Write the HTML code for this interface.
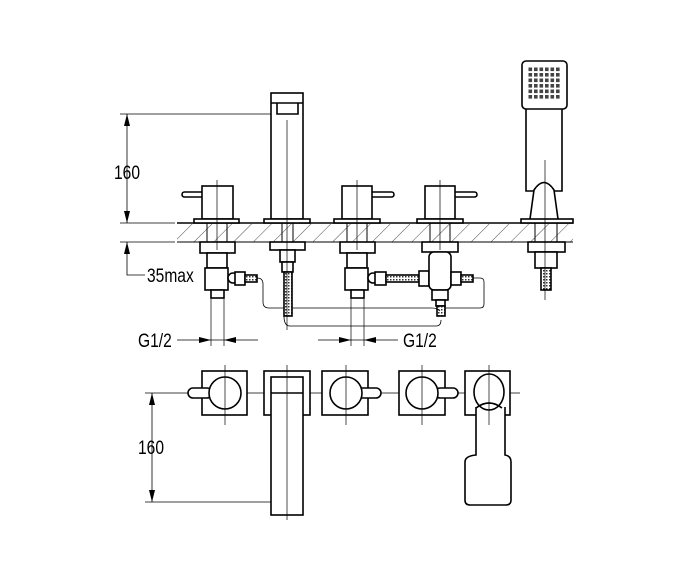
<!DOCTYPE html>
<html><head><meta charset="utf-8"><style>
html,body{margin:0;padding:0;background:#fff;width:690px;height:572px;overflow:hidden}
svg{display:block}
text{font-family:"Liberation Sans",sans-serif;font-size:19px;fill:#000}
</style></head><body>
<svg width="690" height="572" viewBox="0 0 690 572" xmlns="http://www.w3.org/2000/svg">
<defs>
<pattern id="hat" width="14" height="14" patternUnits="userSpaceOnUse" patternTransform="rotate(45)"><line x1="0" y1="0" x2="0" y2="14" stroke="#000" stroke-width="0.7"/></pattern>
<pattern id="mesh" width="3" height="3" patternUnits="userSpaceOnUse"><rect width="3" height="3" fill="#fff"/><rect width="1.5" height="1.5" fill="#333"/></pattern>
<pattern id="grid" x="528" y="67" width="5.5" height="5.5" patternUnits="userSpaceOnUse"><rect width="5.5" height="5.5" fill="#fff"/><rect x="0.5" y="0.5" width="3.6" height="3.6" fill="#444"/></pattern>
</defs>
<g fill="none" stroke="#000" stroke-width="1.6">
<rect x="177" y="224" width="396" height="18" fill="url(#hat)" stroke="none"/>
<line x1="177" y1="223" x2="573" y2="223"/>
<line x1="177" y1="242" x2="573" y2="242" stroke-width="1"/>
</g>
<g fill="#fff" stroke="#000" stroke-width="1.6">
<g stroke-width="0.8" fill="none">
<line x1="120" y1="114" x2="272" y2="114"/>
<line x1="127" y1="114" x2="127" y2="223"/>
<line x1="120" y1="223" x2="175" y2="223"/>
<line x1="120" y1="242" x2="175" y2="242"/>
<polyline points="127,242 127,275 145,275"/>
</g>
<path d="M127,114 l-3,12 h6z M127,223 l-3,-12 h6z M127,242 l-3,12 h6z" fill="#000" stroke="none"/>
<!-- valve 1 -->
<rect x="182" y="192" width="22" height="5" rx="2.5"/>
<rect x="202" y="186" width="31" height="33"/>
<rect x="194" y="219" width="45" height="4"/>
<rect x="207" y="223" width="20" height="19" fill="none" stroke-width="1"/>
<rect x="200" y="242" width="35" height="11"/>
<rect x="207" y="253" width="20" height="15"/>
<rect x="205" y="268" width="23" height="22"/>
<rect x="211" y="290" width="13" height="8"/>
<circle cx="233" cy="278" r="5"/>
<rect x="235" y="272" width="10" height="13"/>
<rect x="245" y="275" width="12" height="7" fill="url(#mesh)"/>
<!-- spout -->
<rect x="271" y="93" width="32" height="126"/>
<line x1="271" y1="103" x2="303" y2="103"/>
<path d="M277,103 V114 H298 V103" fill="none"/>
<rect x="264" y="219" width="46" height="4"/>
<rect x="282" y="223" width="11" height="19" fill="none" stroke-width="1"/>
<rect x="270" y="242" width="35" height="8"/>
<rect x="280" y="250" width="15" height="12"/>
<rect x="282" y="262" width="11" height="10"/>
<rect x="284" y="272" width="8" height="44" fill="url(#mesh)"/>
<!-- valve 2 -->
<rect x="370" y="192" width="24" height="5" rx="2.5"/>
<rect x="342" y="186" width="30" height="33"/>
<rect x="334" y="219" width="46" height="4"/>
<rect x="347" y="223" width="20" height="19" fill="none" stroke-width="1"/>
<rect x="340" y="242" width="35" height="11"/>
<rect x="347" y="253" width="20" height="15"/>
<rect x="345" y="268" width="23" height="22"/>
<rect x="351" y="290" width="13" height="8"/>
<circle cx="373" cy="278" r="5"/>
<rect x="375" y="272" width="11" height="13"/>
<rect x="386" y="275" width="35" height="7" fill="url(#mesh)"/>
<rect x="419" y="271" width="10" height="15"/>
<!-- valve 3 -->
<rect x="453" y="192" width="24" height="5" rx="2.5"/>
<rect x="425" y="186" width="30" height="33"/>
<rect x="417" y="219" width="46" height="4"/>
<rect x="430" y="223" width="20" height="19" fill="none" stroke-width="1"/>
<rect x="422" y="242" width="36" height="10"/>
<rect x="429" y="252" width="22" height="38" rx="5"/>
<rect x="451" y="272" width="10" height="13"/>
<rect x="461" y="275" width="12" height="7" fill="url(#mesh)"/>
<rect x="432" y="290" width="16" height="10"/>
<rect x="436" y="300" width="9" height="6"/>
<rect x="437" y="306" width="8" height="10" fill="url(#mesh)"/>
<!-- hand shower -->
<path d="M526,109 V191 H562 V109"/>
<rect x="522" y="61" width="45" height="48" rx="4"/>
<rect x="528" y="67" width="33" height="33" fill="url(#grid)" stroke="none"/>
<path d="M530,219 L534,190 Q544,175 554,190 L558,219" />
<rect x="521" y="219" width="52" height="4"/>
<rect x="535" y="223" width="22" height="19" fill="none" stroke-width="1"/>
<rect x="528" y="242" width="37" height="10"/>
<rect x="535" y="252" width="22" height="16"/>
<rect x="541" y="268" width="10" height="22" fill="url(#mesh)"/>
<g fill="none" stroke-width="0.8">
<path d="M257,278 q6,0 6,6 v18 q0,6 6,6 H284"/>
<path d="M292,308 H432 q5,0 8,3"/>
<path d="M445,308 H480 q4,0 4,-4 V282 q0,-4 -4,-4 H473"/>
<path d="M284,316 q0,10 6,10 H436 q5,0 5,-6"/>
</g>
<g stroke-width="0.7" fill="none">
<line x1="217" y1="180" x2="217" y2="250"/>
<line x1="287" y1="120" x2="287" y2="330"/>
<line x1="357" y1="180" x2="357" y2="250"/>
<line x1="440" y1="180" x2="440" y2="250"/>
<line x1="545" y1="160" x2="545" y2="300"/>
<line x1="211" y1="298" x2="211" y2="346"/>
<line x1="224" y1="298" x2="224" y2="346"/>
<line x1="351" y1="298" x2="351" y2="346"/>
<line x1="364" y1="298" x2="364" y2="346"/>
<line x1="177" y1="340" x2="258" y2="340"/>
<line x1="318" y1="340" x2="398" y2="340"/>
</g>
<path d="M211,340 l-12,-3 v6z M224,340 l12,-3 v6z M351,340 l-12,-3 v6z M364,340 l12,-3 v6z" fill="#000" stroke="none"/>
<g stroke-width="0.8" fill="none">
<line x1="145" y1="393" x2="520" y2="393"/>
<line x1="152" y1="393" x2="152" y2="502"/>
<line x1="145" y1="502" x2="300" y2="502"/>
</g>
<path d="M152,393 l-3,12 h6z M152,502 l-3,-12 h6z" fill="#000" stroke="none"/>
<rect x="202" y="371" width="45" height="44"/>
<rect x="188" y="388" width="24" height="10" rx="5"/>
<circle cx="225" cy="393" r="16"/>
<rect x="264" y="371" width="46" height="44"/>
<rect x="271" y="377" width="32" height="138"/>
<line x1="271" y1="393" x2="303" y2="393"/>
<rect x="322" y="371" width="46" height="44"/>
<rect x="357" y="388" width="24" height="10" rx="5"/>
<circle cx="346" cy="393" r="16"/>
<rect x="399" y="371" width="46" height="44"/>
<rect x="435" y="388" width="23" height="10" rx="5"/>
<circle cx="422" cy="393" r="16"/>
<rect x="465" y="371" width="45" height="44"/>
<path d="M476,407 V455 Q465,456 465,462 V500 Q465,505 470,505 H506 Q511,505 511,500 V462 Q511,456 505,455 V407"/>
<ellipse cx="489" cy="392" rx="15" ry="18"/>
<path d="M476,408 Q489,398 502,408" fill="none"/>
<g stroke-width="0.7" fill="none">
<line x1="225" y1="365" x2="225" y2="425"/>
<line x1="287" y1="365" x2="287" y2="520"/>
<line x1="346" y1="365" x2="346" y2="425"/>
<line x1="422" y1="365" x2="422" y2="425"/>
<line x1="489" y1="365" x2="489" y2="425"/>
</g>
</g>
<text transform="translate(114,179) scale(0.82,1)">160</text>
<text transform="translate(147,282) scale(0.82,1)">35max</text>
<text transform="translate(138,347) scale(0.82,1)">G1/2</text>
<text transform="translate(403,347) scale(0.82,1)">G1/2</text>
<text transform="translate(138,454) scale(0.82,1)">160</text>
</svg>
</body></html>
